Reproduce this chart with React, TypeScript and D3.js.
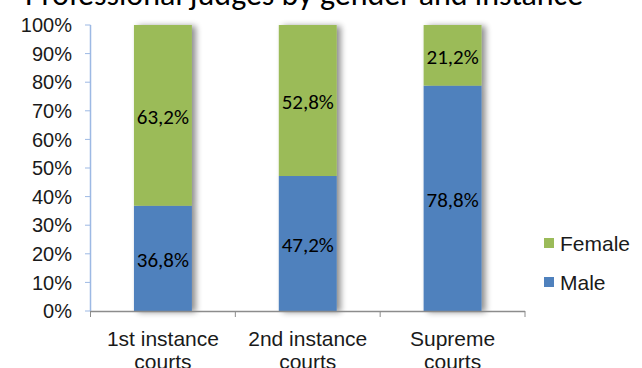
import React from "react";
import * as d3 from "d3";

const categories: string[][] = [["1st instance", "courts"], ["2nd instance", "courts"], ["Supreme", "courts"]];
const male: number[] = [36.8, 47.2, 78.8];
const female: number[] = [63.2, 52.8, 21.2];
const maleLabels: string[] = ["36,8%", "47,2%", "78,8%"];
const femaleLabels: string[] = ["63,2%", "52,8%", "21,2%"];
const yTicks: number[] = [0, 10, 20, 30, 40, 50, 60, 70, 80, 90, 100];
const title = "Professional judges by gender and instance";

const W = 642, H = 368;
const GREEN = "#9BBB59", BLUE = "#4F81BD";

export default function App() {
  const x = d3.scaleBand<number>().domain([0, 1, 2]).range([90.5, 525]).paddingInner(0).paddingOuter(0);
  const y = d3.scaleLinear().domain([0, 100]).range([311, 25]);
  const bw = x.bandwidth() * 0.4;
  const data = categories.map((c, i) => ({ c, i, m: male[i], f: female[i] }));
  const stack = d3.stack<any>().keys(["m", "f"])(data);
  const colors = [BLUE, GREEN];
  const labels = [maleLabels, femaleLabels];
  const labelFont = "Carlito, Calibri, 'Open Sans', sans-serif";
  const axisFont = "'Liberation Sans', Arial, sans-serif";
  return (
    <svg width={W} height={H} style={{ position: "absolute", left: 0, top: 0, background: "#fff" }}>
      <defs>
        <filter id="sh" x="-20%" y="-5%" width="150%" height="110%">
          <feGaussianBlur in="SourceAlpha" stdDeviation="3" />
          <feOffset dx="4" dy="1" result="b" />
          <feComponentTransfer><feFuncA type="linear" slope="0.45" /></feComponentTransfer>
          <feMerge><feMergeNode /><feMergeNode in="SourceGraphic" /></feMerge>
        </filter>
      </defs>
      <text x={304} y={5} textAnchor="middle" fontFamily={labelFont} fontSize={32} fill="#000">{title}</text>
      {/* y axis */}
      <line x1={90.5} x2={90.5} y1={y(100)} y2={y(0)} stroke="#9DB9E4" strokeWidth={1.5} />
      {yTicks.map(t => (
        <g key={t}>
          <line x1={85} x2={90.5} y1={y(t)} y2={y(t)} stroke="#9DB9E4" strokeWidth={1} />
          <text x={72} y={y(t)} dy="0.36em" textAnchor="end" fontFamily={axisFont} fontSize={20} fill="#1a1a1a">{t}%</text>
        </g>
      ))}
      {/* bars */}
      {data.map((d, i) => {
        const cx = (x(i) as number) + x.bandwidth() / 2;
        return (
          <g key={i} filter="url(#sh)">
            {stack.map((s, k) => (
              <rect key={k} x={cx - bw / 2} width={bw} y={y(s[i][1])} height={y(s[i][0]) - y(s[i][1])} fill={colors[k]} />
            ))}
          </g>
        );
      })}
      {data.map((d, i) => {
        const cx = (x(i) as number) + x.bandwidth() / 2;
        return stack.map((s, k) => (
          <text key={`${i}-${k}`} x={cx} y={y((s[i][0] + s[i][1]) / 2)} dy="0.4em" textAnchor="middle" fontFamily={labelFont} fontSize={21} fill="#000">{labels[k][i]}</text>
        ));
      })}
      {/* x axis */}
      <line x1={90.5} x2={525} y1={311.5} y2={311.5} stroke="#8c8c8c" strokeWidth={1.5} />
      {[0, 1, 2, 3].map(k => {
        const xx = k < 3 ? (x(k) as number) : 525;
        return <line key={k} x1={xx} x2={xx} y1={311} y2={317} stroke="#8c8c8c" strokeWidth={1} />;
      })}
      {data.map((d, i) => {
        const cx = (x(i) as number) + x.bandwidth() / 2;
        return (
          <text key={i} textAnchor="middle" fontFamily={axisFont} fontSize={21} fill="#1a1a1a">
            {d.c.map((ln, j) => <tspan key={j} x={cx} y={346 + j * 23}>{ln}</tspan>)}
          </text>
        );
      })}
      {/* legend */}
      {[["Female", GREEN, 251], ["Male", BLUE, 290]].map(([n, c, yy]: any) => (
        <g key={n}>
          <rect x={544} y={yy - 13} width={10} height={10} fill={c} />
          <text x={560} y={yy} fontFamily={axisFont} fontSize={21} fill="#1a1a1a">{n}</text>
        </g>
      ))}
    </svg>
  );
}
